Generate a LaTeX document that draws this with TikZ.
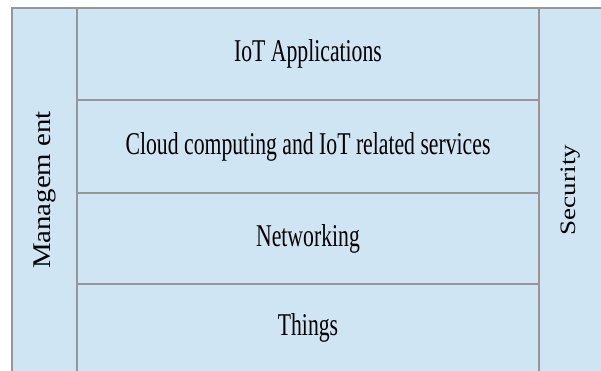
\documentclass[tikz,border=0pt]{standalone}
\usepackage{fontspec}
\setmainfont{Liberation Serif}
\usepackage{graphicx}
\definecolor{layerblue}{RGB}{208,229,243}
\definecolor{rulegray}{RGB}{150,150,150}
\newcommand{\wide}[1]{\scalebox{0.685}[1]{#1}}

\begin{document}
\begin{tikzpicture}[x=1pt,y=-1pt,
  layer/.style={draw=rulegray,line width=1.5pt,fill=layerblue,outer sep=0pt,inner sep=0pt,
    anchor=north west,minimum width=462pt,font=\fontsize{31.7}{36}\selectfont},
  side/.style={draw=rulegray,line width=1.5pt,fill=layerblue,outer sep=0pt,inner sep=0pt,
    anchor=north west,minimum height=364pt}]
\useasboundingbox (0,0) rectangle (601,370);
\clip (0,0) rectangle (601,370);
% side columns
\node[side,minimum width=65pt,font=\fontsize{25.5}{30}\selectfont] (mgmt) at (12,8)
  {\rotatebox{90}{\scalebox{1.13}[1]{Managem ent}}};
\node[side,minimum width=64pt,font=\fontsize{22}{26}\selectfont] (sec) at (539,8)
  {\rotatebox{90}{\scalebox{1.23}[1]{Security}}};
% layers
\node[layer,minimum height=92pt] (apps) at (77,8) {\wide{IoT Applications}};
\node[layer,minimum height=93pt] (cloud) at (77,100) {\wide{Cloud computing and IoT related services}};
\node[layer,minimum height=91pt] (net) at (77,193) {\wide{Networking}};
\node[layer,minimum height=88pt] (things) at (77,284) {\wide{Things}};
\end{tikzpicture}
\end{document}
